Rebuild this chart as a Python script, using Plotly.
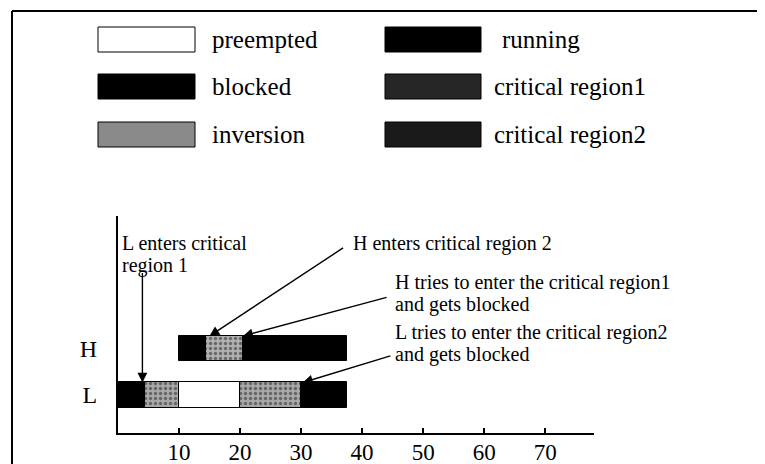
import plotly.graph_objects as go

# ---------------- data ----------------
tasks = ["L", "H"]
seg_task = ["H", "H", "H", "L", "L", "L", "L", "L"]
seg_start = [10, 14.5, 20.5, 0, 4.5, 10, 20, 30]
seg_end = [14.5, 20.5, 37.5, 4.5, 10, 20, 30, 37.5]
seg_state = ["running", "critical region2", "blocked", "running",
             "critical region1", "preempted", "critical region1", "blocked"]

x_ticks = [10, 20, 30, 40, 50, 60, 70]

legend_col1 = ["preempted", "blocked", "inversion"]
legend_col2 = ["running", "critical region1", "critical region2"]

event_text = ["L enters critical<br>region 1", "H enters critical region 2",
              "H tries to enter the critical region1<br>and gets blocked",
              "L tries to enter the critical region2<br>and gets blocked"]
event_task = ["L", "H", "H", "L"]
event_x = [4, 15, 20.5, 30.3]

# ---------------- styles ----------------
# the page body has an 8px margin, so the figure is drawn 8px smaller and
# every reference pixel position is shifted by that margin
OFF = 8
W, H = 765 - OFF, 464 - OFF
FONT = "Liberation Serif"
def X(p): return (p - OFF) / W
def Y(p): return 1 - (p - OFF) / H

bar_style = {
    "running": dict(color="#000000"),
    "blocked": dict(color="#000000"),
    "preempted": dict(color="#ffffff"),
    "critical region1": dict(color="#8c8c8c",
                             pattern=dict(shape=".", bgcolor="#a8a8a8", fgcolor="#202020",
                                          size=5, solidity=0.35)),
    "critical region2": dict(color="#8c8c8c",
                             pattern=dict(shape=".", bgcolor="#b0b0b0", fgcolor="#202020",
                                          size=5, solidity=0.35)),
}
legend_fill = {
    "preempted": "#ffffff", "running": "#000000", "blocked": "#000000",
    "inversion": "#8a8a8a", "critical region1": "#262626", "critical region2": "#1a1a1a",
}

fig = go.Figure()
idx_of = {t: i for i, t in enumerate(tasks)}
bar_w = 0.54

for state in bar_style:
    ids = [i for i, s in enumerate(seg_state) if s == state]
    if not ids:
        continue
    st = bar_style[state]
    marker = dict(color=st["color"], line=dict(color="black", width=1))
    if "pattern" in st:
        marker["pattern"] = st["pattern"]
    fig.add_trace(go.Bar(
        orientation="h",
        y=[seg_task[i] for i in ids],
        base=[seg_start[i] for i in ids],
        x=[seg_end[i] - seg_start[i] for i in ids],
        width=bar_w,
        marker=marker,
        name=state,
        showlegend=False,
    ))

shapes = []
annotations = []

# frame around the figure (left and top edges visible)
shapes.append(dict(type="line", xref="paper", yref="paper", x0=X(12), x1=X(12), y0=Y(11), y1=Y(470),
                   line=dict(color="black", width=2)))
shapes.append(dict(type="line", xref="paper", yref="paper", x0=X(12), x1=X(770), y0=Y(11), y1=Y(11),
                   line=dict(color="black", width=2)))

# manual legend
rows_y = [(27, 52), (74, 99), (122, 147)]
for col, labels, sx0, sx1, tx in [(0, legend_col1, 98, 195, 210), (1, legend_col2, 385, 481, 492)]:
    for r, lab in enumerate(labels):
        y0, y1 = rows_y[r]
        shapes.append(dict(type="rect", xref="paper", yref="paper",
                           x0=X(sx0), x1=X(sx1), y0=Y(y1), y1=Y(y0),
                           fillcolor=legend_fill[lab], line=dict(color="black", width=1)))
        tx_use = tx + (8 if (col == 1 and r == 0) else 0)
        annotations.append(dict(xref="paper", yref="paper", x=X(tx_use), y=Y((y0 + y1) / 2),
                                text=lab, showarrow=False, xanchor="left", yanchor="middle",
                                font=dict(family=FONT, size=25, color="black")))

# event annotations (text lines) and arrows
text_pos = [(120, 243), (351, 243), (393, 282), (393, 332)]
line_gap = 22
for k, txt in enumerate(event_text):
    tx, ty = text_pos[k]
    for j, line in enumerate(txt.split("<br>")):
        annotations.append(dict(xref="paper", yref="paper", x=X(tx), y=Y(ty + j * line_gap),
                                text=line, showarrow=False, xanchor="left", yanchor="middle",
                                font=dict(family=FONT, size=20, color="black")))

tails = [(0, -111), (135, -89), (145, -39), (89, -27)]
for k in range(len(event_x)):
    annotations.append(dict(xref="x", yref="y", x=event_x[k],
                            y=idx_of[event_task[k]] + bar_w / 2,
                            ax=tails[k][0], ay=tails[k][1], text="", showarrow=True,
                            arrowhead=2, arrowsize=1.4, arrowwidth=1.4, arrowcolor="black",
                            standoff=0, startstandoff=0))

fig.update_layout(
    width=W, height=H,
    margin=dict(l=0, r=0, t=0, b=0),
    paper_bgcolor="white", plot_bgcolor="white",
    barmode="overlay", bargap=0,
    showlegend=False,
    shapes=shapes, annotations=annotations,
    font=dict(family=FONT, color="black"),
    xaxis=dict(domain=[X(118), X(594)], range=[0, 78], tickvals=x_ticks,
               ticks="inside", ticklen=5, tickwidth=1.5, tickcolor="black",
               showline=True, linecolor="black", linewidth=2,
               showgrid=False, zeroline=False, ticklabelstandoff=-3,
               tickfont=dict(family=FONT, size=23, color="black")),
    yaxis=dict(domain=[Y(433), Y(216)], type="category", categoryorder="array",
               categoryarray=tasks, range=[-0.817, 3.85],
               showline=True, linecolor="black", linewidth=2,
               showgrid=False, zeroline=False, ticks="", ticklabelstandoff=14,
               tickfont=dict(family=FONT, size=24, color="black")),
)

fig.write_html("out.html")
